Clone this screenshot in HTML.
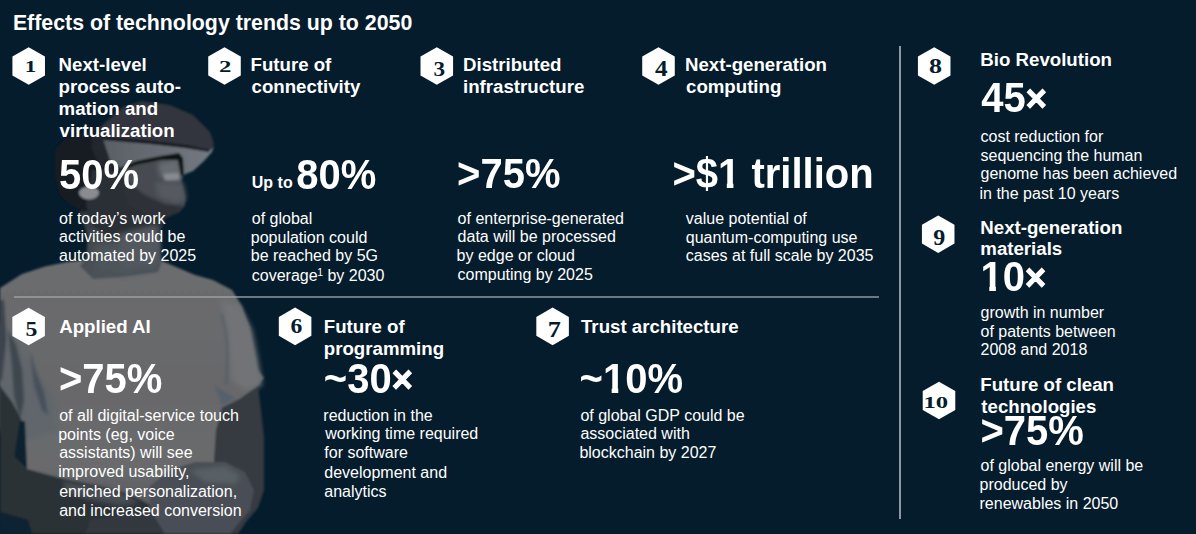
<!DOCTYPE html>
<html><head><meta charset="utf-8"><style>
html,body{margin:0;padding:0;}
body{width:1196px;height:534px;background:#051c2c;position:relative;overflow:hidden;font-family:"Liberation Sans",sans-serif;color:#fff;}
.t{position:absolute;white-space:nowrap;}
.t .x{font-size:36px;-webkit-text-stroke:1.1px #fff;position:relative;top:-1.5px;}
.t .one{display:inline-block;clip-path:polygon(0 0,100% 0,100% 28.6px,15.3px 28.6px,15.3px 40px,8.7px 40px,8.7px 28.6px,0 28.6px);}
.t sup{font-size:10.5px;line-height:0;vertical-align:5px;margin-left:-0.5px;}
.n{position:absolute;width:60px;text-align:center;font-family:"Liberation Serif",serif;font-weight:bold;color:#051c2c;white-space:nowrap;}
svg{position:absolute;left:0;top:0;}
</style></head><body>
<svg width="1196" height="534" viewBox="0 0 1196 534">
<defs>
<filter id="bl" x="-10%" y="-10%" width="120%" height="120%"><feGaussianBlur stdDeviation="0.9"/></filter>
<filter id="bl2" x="-30%" y="-30%" width="160%" height="160%"><feGaussianBlur stdDeviation="2.5"/></filter>
<linearGradient id="shirtg" x1="0" y1="260" x2="0" y2="534" gradientUnits="userSpaceOnUse">
<stop offset="0" stop-color="#6c6d6f"/><stop offset="0.45" stop-color="#67686a"/><stop offset="0.75" stop-color="#6a6b6d"/><stop offset="1" stop-color="#4a4d51"/>
</linearGradient>
<linearGradient id="hsg" x1="100" y1="0" x2="215" y2="0" gradientUnits="userSpaceOnUse">
<stop offset="0" stop-color="#343a40"/><stop offset="1" stop-color="#484e54"/>
</linearGradient>
<linearGradient id="bandg" x1="100" y1="0" x2="210" y2="0" gradientUnits="userSpaceOnUse">
<stop offset="0" stop-color="#585e64"/><stop offset="1" stop-color="#737980"/>
</linearGradient>
<linearGradient id="neckg" x1="0" y1="210" x2="0" y2="278" gradientUnits="userSpaceOnUse">
<stop offset="0" stop-color="#2e3439"/><stop offset="0.5" stop-color="#42484e"/><stop offset="1" stop-color="#4c5258"/>
</linearGradient>
</defs>
<g filter="url(#bl)">
<!-- shirt -->
<path d="M0,288 L22,274 L45,266.5 L67,262 L87,260 L162,261 L195,275 L213,280 L232,290 L242,306 L250,327 L254,348 L258,369 L264,378 L258,386 L240,399 L222,408 L216,440 L214,534 L0,534 Z" fill="url(#shirtg)"/>
<!-- right sleeve highlight -->
<path d="M222,300 L240,306 L252,330 L258,360 L262,386 L245,390 L232,380 L228,340 Z" fill="#717376" filter="url(#bl2)"/>
<path d="M221,314 Q231,340 226,385" stroke="#535c66" stroke-width="2" fill="none" filter="url(#bl)"/>
<path d="M214,385 Q225,392 236,398 L222,406 Z" fill="#56616b" filter="url(#bl)"/>
<!-- left wrinkles / shadow -->
<path d="M0,320 L10,330 L24,350 L40,375 L55,400 L58,430 L30,440 L0,430 Z" fill="#60666c" filter="url(#bl2)"/>
<path d="M8,330 L16,345 L22,370 L24,400 L20,420 L14,395 L12,365 Z" fill="#3e464e" filter="url(#bl)"/>
<path d="M30,350 L36,372 L44,392 L48,415 L42,410 L34,385 Z" fill="#46505a" filter="url(#bl)"/>
<path d="M0,300 L4,300 L6,340 L2,380 L0,380 Z" fill="#3a4148" filter="url(#bl)"/>
<!-- left arm -->
<path d="M0,386 L12,402 L22,421 L14,457 L27,469 L60,478 L100,486 L130,494 L150,505 L145,520 L120,528 L90,534 L0,534 Z" fill="#2a3036"/>
<path d="M0,512 L28,520 L32,534 L0,534 Z" fill="#0a2030"/>
<path d="M20,421 L25,421 L27,469 L14,457 Z" fill="#08202f"/>
<path d="M62,481 L100,487 L128,495 L140,503 L120,506 L90,500 L66,492 Z" fill="#474d53" filter="url(#bl2)"/>
<!-- right arm -->
<path d="M222,408 L240,399 L258,386 L261,410 L264,437 L264,490 L258,508 L246,522 L238,534 L214,534 L214,460 L216,430 Z" fill="#363b41"/>
<!-- right hand -->
<path d="M150,486 L170,470 L195,462 L225,462 L245,472 L254,490 L250,510 L238,524 L230,534 L150,534 Z" fill="#484e54"/>
<path d="M190,470 L225,466 L240,476 L236,484 L205,482 Z" fill="#596066" filter="url(#bl2)"/>
<path d="M90,520 L150,510 L165,534 L85,534 Z" fill="#31373d"/>
<!-- neck -->
<path d="M79,211 L168,210 L160,226 L161,263 L158,272 L121,277 L93,279 L80,266 L86,259 L88,236 Z" fill="url(#neckg)"/>
<path d="M95,245 L158,240 L158,270 L121,276 L95,270 Z" fill="#4e545a" filter="url(#bl2)"/>
<!-- head hair -->
<path d="M55,176 L55,150 L66,138 L80,133 L100,127 L112,136 L110,165 L100,195 L90,210 L80,210 L71,205 L60,195 Z" fill="#181c21"/>
<!-- beard -->
<path d="M92,170 L130,170 L150,200 L168,212 L184,206 L179,212 L166,218 L160,232 L140,240 L110,238 L92,225 L86,205 Z" fill="#292e34"/>
<!-- face -->
<path d="M120,168 L136,163 L160,158 L180,156 L183,175 L182,182 L186,199 L184.6,206 L179,211.6 L166,214 L152,204 L138,190 L125,180 Z" fill="#464b51"/>
<path d="M158,163 L178,158 L182,174 L175,180 L160,176 Z" fill="#666c72" filter="url(#bl2)"/>
<path d="M163,174 L179,173 L180,180 L165,181 Z" fill="#8a8e92" filter="url(#bl)"/>
<path d="M155,182 L183,183 L186,199 L175,204 L158,196 Z" fill="#555a60" filter="url(#bl2)"/>
<path d="M122,180 L145,195 L165,204 L184,206 L179,212 L166,217 L150,216 L128,205 Z" fill="#2e3339" filter="url(#bl)"/>
<!-- throat -->
<path d="M118,234 L158,224 L160,262 L122,270 Z" fill="#52585e" filter="url(#bl2)"/>
<!-- ear -->
<ellipse cx="89" cy="193" rx="10" ry="6.5" fill="#888c90"/>
<!-- headset top -->
<path d="M100,127 L123,107 L142,101 L170,105 L193,115 L210,132 L214,144 L209,150 L185,145 L150,141 L103,137 Z" fill="#30363c"/>
<!-- headset side (left, darker) -->
<path d="M92,135 L103,137 L115,140 L118,165 L110,170 L100,165 L92,150 Z" fill="#22272d"/>
<!-- shell -->
<path d="M103,139 L150,143 L185,147 L209,151 L214,146 L212,152 L204,161 L193,171 L183,175 L181,160 L179,155 L160,158 L136,163 L120,168 L110,160 Z" fill="url(#bandg)"/>
<!-- gasket lines -->
<path d="M103,137 L150,141 L185,145 L209,150 L209,152 L185,148 L150,144 L103,140 Z" fill="#15191e"/>
<path d="M120,168 L136,161 L160,156 L179,153 L183,158 L184,175 L181,176 L178,160 L160,160 L136,165 L122,171 Z" fill="#111518"/>
</g>

<rect x="14" y="296" width="865" height="2" fill="#a0a4a8" fill-opacity="0.68"/>
<rect x="899" y="46" width="2" height="473" fill="#8d98a2"/>
<polygon points="28.70,47.20 44.98,56.60 44.98,75.40 28.70,84.80 12.42,75.40 12.42,56.60" fill="#fff"/>
<polygon points="224.50,47.20 240.78,56.60 240.78,75.40 224.50,84.80 208.22,75.40 208.22,56.60" fill="#fff"/>
<polygon points="436.80,47.20 453.08,56.60 453.08,75.40 436.80,84.80 420.52,75.40 420.52,56.60" fill="#fff"/>
<polygon points="658.50,47.20 674.78,56.60 674.78,75.40 658.50,84.80 642.22,75.40 642.22,56.60" fill="#fff"/>
<polygon points="934.20,47.20 950.48,56.60 950.48,75.40 934.20,84.80 917.92,75.40 917.92,56.60" fill="#fff"/>
<polygon points="938.20,215.40 954.48,224.80 954.48,243.60 938.20,253.00 921.92,243.60 921.92,224.80" fill="#fff"/>
<polygon points="939.00,381.70 955.28,391.10 955.28,409.90 939.00,419.30 922.72,409.90 922.72,391.10" fill="#fff"/>
<polygon points="28.60,307.70 44.88,317.10 44.88,335.90 28.60,345.30 12.32,335.90 12.32,317.10" fill="#fff"/>
<polygon points="295.10,307.60 311.38,317.00 311.38,335.80 295.10,345.20 278.82,335.80 278.82,317.00" fill="#fff"/>
<polygon points="552.60,307.60 568.88,317.00 568.88,335.80 552.60,345.20 536.32,335.80 536.32,317.00" fill="#fff"/>
<g font-family="Liberation Serif" font-weight="bold" font-size="20" fill="#051c2c">
<text transform="translate(24.65,72.00) scale(1.150,0.850)" x="0" y="0">1</text>
<text transform="translate(218.90,71.90) scale(1.240,0.814)" x="0" y="0">2</text>
<text transform="translate(433.50,75.70) scale(1.160,1.086)" x="0" y="0">3</text>
<text transform="translate(655.10,75.70) scale(1.260,1.114)" x="0" y="0">4</text>
<text transform="translate(929.00,73.30) scale(1.300,1.093)" x="0" y="0">8</text>
<text transform="translate(933.30,245.00) scale(1.200,1.121)" x="0" y="0">9</text>
<text transform="translate(923.46,407.80) scale(1.237,0.864)" x="0" y="0">10</text>
<text transform="translate(25.40,336.30) scale(1.190,1.100)" x="0" y="0">5</text>
<text transform="translate(290.50,333.00) scale(1.180,1.071)" x="0" y="0">6</text>
<text transform="translate(547.79,337.00) scale(1.311,1.121)" x="0" y="0">7</text>
</g>
</svg>
<div class="t" style="left:12.90px;top:13.00px;font-size:21.33px;line-height:21.33px;font-weight:bold">Effects of technology trends up to 2050</div>
<div class="t" style="left:58.60px;top:56.00px;font-size:18.67px;line-height:18.67px;font-weight:bold">Next-level</div>
<div class="t" style="left:58.60px;top:78.00px;font-size:18.67px;line-height:18.67px;font-weight:bold">process auto-</div>
<div class="t" style="left:58.60px;top:100.00px;font-size:18.67px;line-height:18.67px;font-weight:bold">mation and</div>
<div class="t" style="left:59.60px;top:122.00px;font-size:18.67px;line-height:18.67px;font-weight:bold">virtualization</div>
<div class="t" style="left:58.90px;top:155.00px;font-size:40px;line-height:40px;font-weight:bold;transform:scaleY(1.04);transform-origin:0 34px">50%</div>
<div class="t" style="left:59.10px;top:211.00px;font-size:16px;line-height:16px;font-weight:normal">of today’s work</div>
<div class="t" style="left:59.10px;top:229.00px;font-size:16px;line-height:16px;font-weight:normal">activities could be</div>
<div class="t" style="left:59.10px;top:248.00px;font-size:16px;line-height:16px;font-weight:normal">automated by 2025</div>
<div class="t" style="left:250.50px;top:56.00px;font-size:18.67px;line-height:18.67px;font-weight:bold">Future of</div>
<div class="t" style="left:251.50px;top:78.00px;font-size:18.67px;line-height:18.67px;font-weight:bold">connectivity</div>
<div class="t" style="left:251.80px;top:175.00px;font-size:16px;line-height:16px;font-weight:bold">Up to</div>
<div class="t" style="left:296.20px;top:155.00px;font-size:40px;line-height:40px;font-weight:bold;transform:scaleY(1.04);transform-origin:0 34px">80%</div>
<div class="t" style="left:251.80px;top:211.00px;font-size:16px;line-height:16px;font-weight:normal">of global</div>
<div class="t" style="left:250.80px;top:230.00px;font-size:16px;line-height:16px;font-weight:normal">population could</div>
<div class="t" style="left:250.80px;top:248.00px;font-size:16px;line-height:16px;font-weight:normal">be reached by 5G</div>
<div class="t" style="left:251.80px;top:268.00px;font-size:16px;line-height:16px;font-weight:normal">coverage<sup>1</sup> by 2030</div>
<div class="t" style="left:463.00px;top:56.00px;font-size:18.67px;line-height:18.67px;font-weight:bold">Distributed</div>
<div class="t" style="left:463.00px;top:78.00px;font-size:18.67px;line-height:18.67px;font-weight:bold">infrastructure</div>
<div class="t" style="left:457.10px;top:154.00px;font-size:40px;line-height:40px;font-weight:bold;transform:scaleY(1.04);transform-origin:0 34px">&gt;75%</div>
<div class="t" style="left:457.60px;top:211.00px;font-size:16px;line-height:16px;font-weight:normal">of enterprise-generated</div>
<div class="t" style="left:457.60px;top:229.00px;font-size:16px;line-height:16px;font-weight:normal">data will be processed</div>
<div class="t" style="left:456.60px;top:248.00px;font-size:16px;line-height:16px;font-weight:normal">by edge or cloud</div>
<div class="t" style="left:457.60px;top:267.00px;font-size:16px;line-height:16px;font-weight:normal">computing by 2025</div>
<div class="t" style="left:685.00px;top:56.00px;font-size:18.67px;line-height:18.67px;font-weight:bold">Next-generation</div>
<div class="t" style="left:686.00px;top:78.00px;font-size:18.67px;line-height:18.67px;font-weight:bold">computing</div>
<div class="t" style="left:672.50px;top:154.00px;font-size:40px;line-height:40px;font-weight:bold;transform:scaleY(1.04);transform-origin:0 34px">&gt;$<span class="one">1</span> trillion</div>
<div class="t" style="left:685.80px;top:211.00px;font-size:16px;line-height:16px;font-weight:normal">value potential of</div>
<div class="t" style="left:685.80px;top:230.00px;font-size:16px;line-height:16px;font-weight:normal">quantum-computing use</div>
<div class="t" style="left:685.80px;top:248.00px;font-size:16px;line-height:16px;font-weight:normal">cases at full scale by 2035</div>
<div class="t" style="left:59.20px;top:318.00px;font-size:18.67px;line-height:18.67px;font-weight:bold">Applied AI</div>
<div class="t" style="left:59.00px;top:359.00px;font-size:40px;line-height:40px;font-weight:bold;transform:scaleY(1.04);transform-origin:0 34px">&gt;75%</div>
<div class="t" style="left:59.20px;top:408.00px;font-size:16px;line-height:16px;font-weight:normal">of all digital-service touch</div>
<div class="t" style="left:58.20px;top:427.00px;font-size:16px;line-height:16px;font-weight:normal">points (eg, voice</div>
<div class="t" style="left:59.20px;top:445.00px;font-size:16px;line-height:16px;font-weight:normal">assistants) will see</div>
<div class="t" style="left:58.20px;top:464.00px;font-size:16px;line-height:16px;font-weight:normal">improved usability,</div>
<div class="t" style="left:59.20px;top:484.00px;font-size:16px;line-height:16px;font-weight:normal">enriched personalization,</div>
<div class="t" style="left:59.20px;top:503.00px;font-size:16px;line-height:16px;font-weight:normal">and increased conversion</div>
<div class="t" style="left:323.80px;top:318.00px;font-size:18.67px;line-height:18.67px;font-weight:bold">Future of</div>
<div class="t" style="left:323.80px;top:340.00px;font-size:18.67px;line-height:18.67px;font-weight:bold">programming</div>
<div class="t" style="left:323.80px;top:359.00px;font-size:40px;line-height:40px;font-weight:bold;transform:scaleY(1.04);transform-origin:0 34px">~30<span class="x">×</span></div>
<div class="t" style="left:323.30px;top:408.00px;font-size:16px;line-height:16px;font-weight:normal">reduction in the</div>
<div class="t" style="left:325.30px;top:426.00px;font-size:16px;line-height:16px;font-weight:normal">working time required</div>
<div class="t" style="left:324.30px;top:445.00px;font-size:16px;line-height:16px;font-weight:normal">for software</div>
<div class="t" style="left:324.30px;top:465.00px;font-size:16px;line-height:16px;font-weight:normal">development and</div>
<div class="t" style="left:324.30px;top:484.00px;font-size:16px;line-height:16px;font-weight:normal">analytics</div>
<div class="t" style="left:581.00px;top:318.00px;font-size:18.67px;line-height:18.67px;font-weight:bold">Trust architecture</div>
<div class="t" style="left:579.60px;top:359.00px;font-size:40px;line-height:40px;font-weight:bold;transform:scaleY(1.04);transform-origin:0 34px">~<span class="one">1</span>0%</div>
<div class="t" style="left:580.40px;top:408.00px;font-size:16px;line-height:16px;font-weight:normal">of global GDP could be</div>
<div class="t" style="left:580.40px;top:426.00px;font-size:16px;line-height:16px;font-weight:normal">associated with</div>
<div class="t" style="left:579.40px;top:445.00px;font-size:16px;line-height:16px;font-weight:normal">blockchain by 2027</div>
<div class="t" style="left:980.30px;top:51.00px;font-size:18.67px;line-height:18.67px;font-weight:bold">Bio Revolution</div>
<div class="t" style="left:981.30px;top:78.00px;font-size:40px;line-height:40px;font-weight:bold;transform:scaleY(1.04);transform-origin:0 34px">45<span class="x">×</span></div>
<div class="t" style="left:980.50px;top:129.00px;font-size:16px;line-height:16px;font-weight:normal">cost reduction for</div>
<div class="t" style="left:980.50px;top:148.00px;font-size:16px;line-height:16px;font-weight:normal">sequencing the human</div>
<div class="t" style="left:980.50px;top:166.00px;font-size:16px;line-height:16px;font-weight:normal">genome has been achieved</div>
<div class="t" style="left:979.50px;top:186.00px;font-size:16px;line-height:16px;font-weight:normal">in the past 10 years</div>
<div class="t" style="left:980.30px;top:219.00px;font-size:18.67px;line-height:18.67px;font-weight:bold">Next-generation</div>
<div class="t" style="left:980.30px;top:240.00px;font-size:18.67px;line-height:18.67px;font-weight:bold">materials</div>
<div class="t" style="left:980.60px;top:257.00px;font-size:40px;line-height:40px;font-weight:bold;transform:scaleY(1.04);transform-origin:0 34px"><span class="one">1</span>0<span class="x">×</span></div>
<div class="t" style="left:980.50px;top:305.00px;font-size:16px;line-height:16px;font-weight:normal">growth in number</div>
<div class="t" style="left:980.50px;top:324.00px;font-size:16px;line-height:16px;font-weight:normal">of patents between</div>
<div class="t" style="left:980.50px;top:342.00px;font-size:16px;line-height:16px;font-weight:normal">2008 and 2018</div>
<div class="t" style="left:980.30px;top:376.00px;font-size:18.67px;line-height:18.67px;font-weight:bold">Future of clean</div>
<div class="t" style="left:981.30px;top:398.00px;font-size:18.67px;line-height:18.67px;font-weight:bold">technologies</div>
<div class="t" style="left:980.40px;top:411.00px;font-size:40px;line-height:40px;font-weight:bold;transform:scaleY(1.04);transform-origin:0 34px">&gt;75%</div>
<div class="t" style="left:980.50px;top:458.00px;font-size:16px;line-height:16px;font-weight:normal">of global energy will be</div>
<div class="t" style="left:979.50px;top:477.00px;font-size:16px;line-height:16px;font-weight:normal">produced by</div>
<div class="t" style="left:979.50px;top:496.00px;font-size:16px;line-height:16px;font-weight:normal">renewables in 2050</div>
</body></html>
